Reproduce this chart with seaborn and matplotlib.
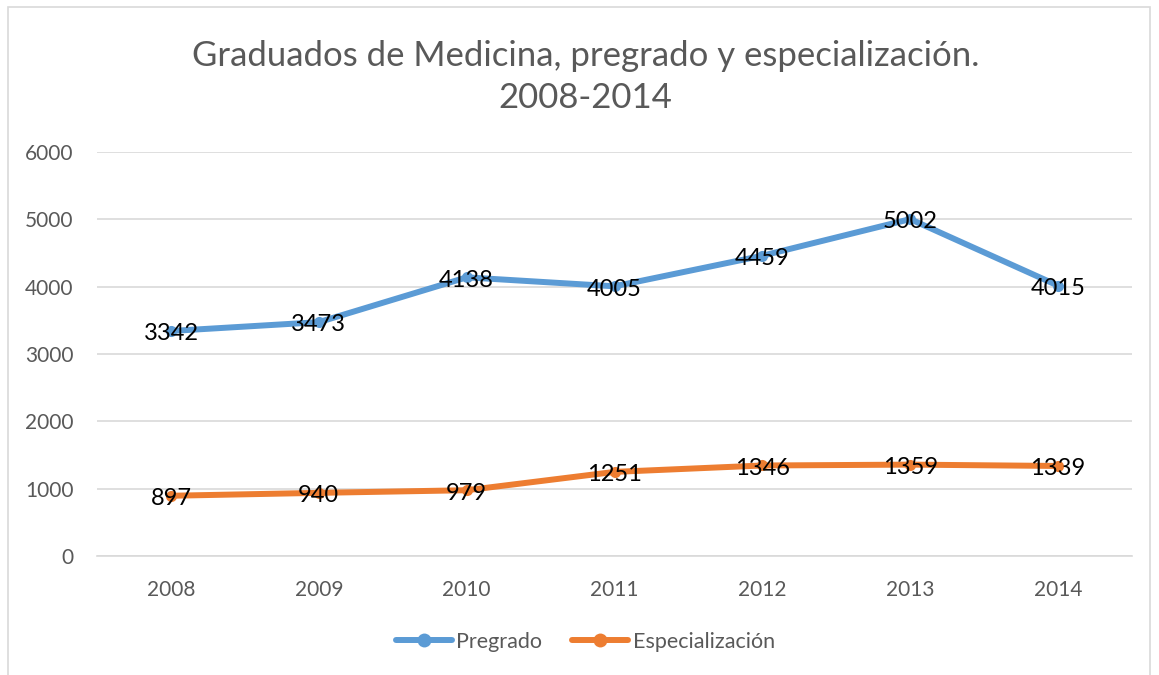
import matplotlib
matplotlib.use("Agg")
import matplotlib.pyplot as plt
import seaborn as sns
import pandas as pd
from matplotlib.patches import Rectangle
from matplotlib.lines import Line2D

years = ["2008", "2009", "2010", "2011", "2012", "2013", "2014"]
pregrado = [3342, 3473, 4138, 4005, 4459, 5002, 4015]
especializacion = [897, 940, 979, 1251, 1346, 1359, 1339]
series_names = ["Pregrado", "Especialización"]
colors = ["#5B9BD5", "#ED7D31"]

df = pd.DataFrame({
    "year": years * 2,
    "x": list(range(len(years))) * 2,
    "value": pregrado + especializacion,
    "serie": [series_names[0]] * len(years) + [series_names[1]] * len(years),
})

sns.set_theme(style="white")
plt.rcParams["font.family"] = ["Lato", "DejaVu Sans"]

fig = plt.figure(figsize=(11.59, 6.75), dpi=100)
ax = fig.add_axes([0.0837, 0.176, 0.893, 0.599])

sns.lineplot(data=df, x="x", y="value", hue="serie", palette=colors,
             marker="o", markersize=8, markeredgewidth=0, linewidth=4.3,
             ax=ax, legend=False, sort=False)

for name, vals in zip(series_names, [pregrado, especializacion]):
    for i, v in enumerate(vals):
        ax.annotate(str(v), (i, v), xytext=(0, -2), textcoords="offset points",
                    ha="center", va="center", fontsize=17, color="black")

ax.set_xlim(-0.5, len(years) - 0.5)
ax.set_ylim(0, 6000)
ax.set_yticks(range(0, 6001, 1000))
ax.set_xticks(range(len(years)))
ax.set_xticklabels(years)
ax.yaxis.grid(True, color="#D9D9D9", linewidth=1.2)
ax.xaxis.grid(False)
for s in ["top", "right", "left"]:
    ax.spines[s].set_visible(False)
ax.spines["bottom"].set_color("#D9D9D9")
ax.spines["bottom"].set_linewidth(1.2)
ax.tick_params(axis="both", colors="#595959", labelsize=15, length=0)
ax.tick_params(axis="x", pad=17)
ax.tick_params(axis="y", pad=17)
ax.set_xlabel("")
ax.set_ylabel("")

fig.text(0.505, 0.886, "Graduados de Medicina, pregrado y especialización.\n2008-2014",
         ha="center", va="center", fontsize=25, color="#595959", linespacing=1.4)

handles = [Line2D([], [], color=c, linewidth=4.3, marker="o", markersize=10, markeredgewidth=0)
           for c in colors]
fig.legend(handles, series_names, loc="center", bbox_to_anchor=(0.505, 0.049), ncol=2,
           frameon=False, fontsize=15.5, labelcolor="#595959", handlelength=2.6,
           columnspacing=1.4, handletextpad=0.2)

fig.patches.append(Rectangle((0.007, -0.05), 0.985, 1.04, transform=fig.transFigure,
                             fill=False, edgecolor="#D9D9D9", linewidth=1.2))

fig.savefig("out.png", dpi=100, facecolor="white")
